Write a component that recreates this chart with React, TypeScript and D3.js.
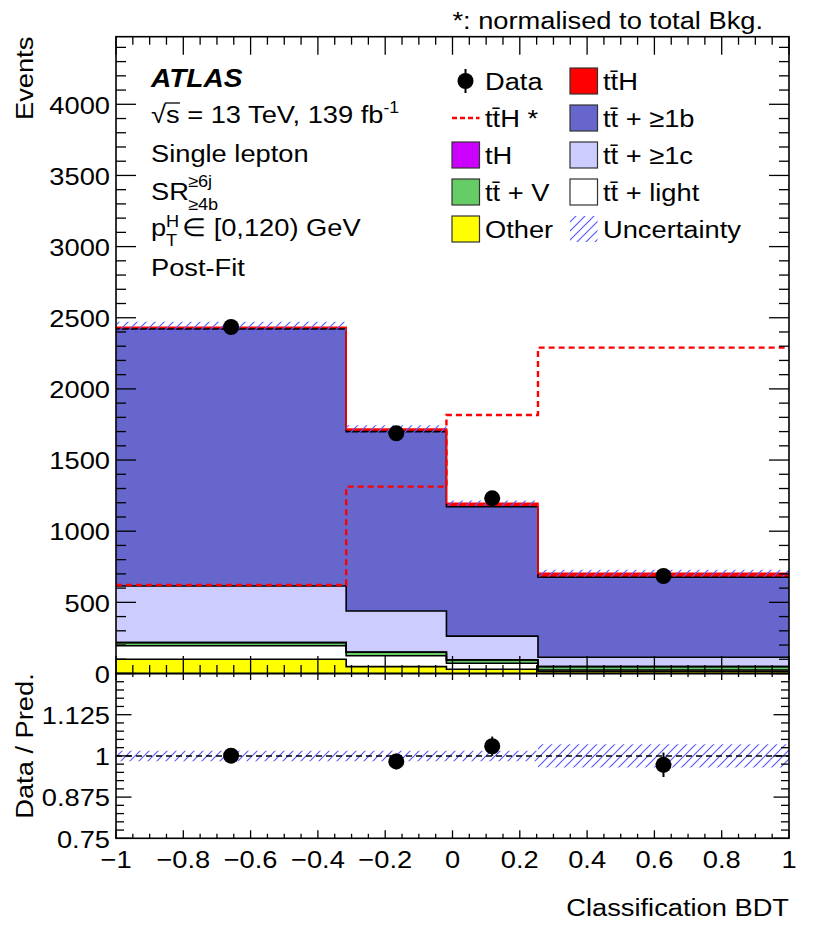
import React from "react";
import * as d3 from "d3";

// ---------- data ----------
const binEdges = [-1, -0.316, -0.018, 0.254, 1];
const other = [100, 48, 30, 15];
const ttLight = [95, 77, 42, 10];
const ttV = [22, 24, 23, 23];
const tH = [1, 1, 1, 1];
const ttC = [397, 289, 167, 65];
const ttB = [1806, 1261, 909, 562];
const ttH = [12, 17, 24, 28];
const ttHstar = [622, 1313, 1817, 2290];
const dataVals = [2435, 1688, 1231, 685];
const relUnc = [0.016, 0.016, 0.016, 0.035];

const yTickLabels = [0, 500, 1000, 1500, 2000, 2500, 3000, 3500, 4000];
const rTickLabels = ["0.75", "0.875", "1", "1.125"];
const xTickLabels = [-1, -0.8, -0.6, -0.4, -0.2, 0, 0.2, 0.4, 0.6, 0.8, 1];

const layers = [
  { key: "other", vals: other, fill: "#ffff00", stroke: "#000", label: "Other" },
  { key: "light", vals: ttLight, fill: "#ffffff", stroke: "#000", label: "tt\u0304 + light" },
  { key: "V", vals: ttV, fill: "#66cc66", stroke: "#000", label: "tt\u0304 + V" },
  { key: "tH", vals: tH, fill: "#cc00ff", stroke: "#000", label: "tH" },
  { key: "c", vals: ttC, fill: "#ccccff", stroke: "#000", label: "tt\u0304 + \u22651c" },
  { key: "b", vals: ttB, fill: "#6666cc", stroke: "#000", label: "tt\u0304 + \u22651b" },
  { key: "ttH", vals: ttH, fill: "#ff0000", stroke: "#ff0000", label: "tt\u0304H" },
];

// ---------- layout ----------
const W = 830, H = 936;
const X0 = 116, X1 = 789;
const YT = 36.7, YB = 673.5, RB = 838.3;
const FS = 24.8, SX = 1.1;
const FONT = "'Liberation Sans', Arial, Helvetica, sans-serif";
const HATCH = "#5a5aff";

const x = d3.scaleLinear().domain([-1, 1]).range([X0, X1]);
const y = d3.scaleLinear().domain([0, 4475]).range([YB, YT]);
const yr = d3.scaleLinear().domain([0.75, 1.25]).range([RB, YB]);

const nb = dataVals.length;
const rows = d3.range(nb).map((i) => {
  const o: any = {};
  layers.forEach((l) => (o[l.key] = l.vals[i]));
  return o;
});
const stacked = d3.stack().keys(layers.map((l) => l.key))(rows);
const totals = d3.range(nb).map((i) => d3.sum(layers, (l) => l.vals[i]));

type P = { e: number; a: number; b: number };
const stepPts = (lo: number[], hi: number[]): P[] => {
  const pts = d3.range(nb).map((i) => ({ e: binEdges[i], a: lo[i], b: hi[i] }));
  pts.push({ e: binEdges[nb], a: lo[nb - 1], b: hi[nb - 1] });
  return pts;
};

const T = ({ x: tx, y: ty, anchor = "start", size = FS, rot = false, weight = "normal", style = "normal", children }: any) => (
  <text
    transform={`translate(${tx},${ty})${rot ? " rotate(-90)" : ""} scale(${SX},1)`}
    textAnchor={anchor}
    fontSize={size}
    fontFamily={FONT}
    fontWeight={weight}
    fontStyle={style}
    fill="#000"
  >
    {children}
  </text>
);

export default function App() {
  const areaGen = (scaleY: any) =>
    d3
      .area<P>()
      .x((d) => x(d.e))
      .y0((d) => scaleY(d.a))
      .y1((d) => scaleY(d.b))
      .curve(d3.curveStepAfter);
  const lineGen = (scaleY: any) =>
    d3
      .line<P>()
      .x((d) => x(d.e))
      .y((d) => scaleY(d.b))
      .curve(d3.curveStepAfter);

  const mainArea = areaGen(y);
  const mainLine = lineGen(y);

  const layerPaths = stacked.map((s, li) => {
    const lo = s.map((d) => d[0]);
    const hi = s.map((d) => d[1]);
    const pts = stepPts(lo, hi);
    return { area: mainArea(pts), line: mainLine(pts), layer: layers[li] };
  });

  const starLine = mainLine(stepPts(ttHstar, ttHstar));
  const uncMain = mainArea(
    stepPts(
      totals.map((t, i) => t * (1 - relUnc[i])),
      totals.map((t, i) => t * (1 + relUnc[i]))
    )
  );
  const uncRatio = areaGen(yr)(
    stepPts(
      relUnc.map((u) => 1 - u),
      relUnc.map((u) => 1 + u)
    )
  );

  const centers = d3.range(nb).map((i) => (binEdges[i] + binEdges[i + 1]) / 2);
  const ratios = dataVals.map((d, i) => d / totals[i]);
  const ratioErr = dataVals.map((d, i) => Math.sqrt(d) / totals[i]);

  // ticks
  const yMinor = d3.range(0, 4476, 100);
  const xMinor = d3.range(0, 41).map((i) => -1 + i * 0.05);
  const rMinor = d3.range(0, 21).map((i) => 0.75 + i * 0.025);
  const isMaj = (v: number, step: number) => Math.abs(v / step - Math.round(v / step)) < 1e-6;

  const tickLines: any[] = [];
  yMinor.forEach((v) => {
    const L = isMaj(v, 500) ? 20 : 10;
    tickLines.push([X0, y(v), X0 + L, y(v)], [X1, y(v), X1 - L, y(v)]);
  });
  xMinor.forEach((v) => {
    const m = isMaj(v + 1, 0.2);
    tickLines.push([x(v), YT, x(v), YT + (m ? 18 : 8)]);
    tickLines.push([x(v), YB, x(v), YB - (m ? 17.5 : 8.5)]);
    tickLines.push([x(v), YB, x(v), YB + (m ? 6.5 : 3.5)]);
    tickLines.push([x(v), RB, x(v), RB - (m ? 8 : 4.5)]);
  });
  rMinor.forEach((v) => {
    const L = isMaj(v - 0.75, 0.125) ? 15.5 : 8;
    tickLines.push([X0, yr(v), X0 + L, yr(v)], [X1, yr(v), X1 - L, yr(v)]);
  });

  const fmtX = (v: number) => (v < 0 ? "\u2212" + String(Math.abs(v)) : String(v));

  const rowY = [81, 118, 155, 192, 229];
  const c1Box = 452, c2Box = 570, boxW = 27.5, boxH = 26;
  const c1Text = 485, c2Text = 603;
  const legBox = (bx: number, cy: number, fill: string) => (
    <rect x={bx} y={cy - boxH / 2} width={boxW} height={boxH} fill={fill} stroke="#333" strokeWidth={1.2} />
  );

  return (
    <svg width={W} height={H} style={{ position: "absolute", left: 0, top: 0, background: "#fff" }}>
      <defs>
        <pattern id="hatch" patternUnits="userSpaceOnUse" width={9} height={9}>
          <path d="M0,9 L9,0 M-2,2 L2,-2 M7,11 L11,7" stroke={HATCH} strokeWidth={1.2} />
        </pattern>
      </defs>
      <rect x={0} y={0} width={W} height={H} fill="#fff" />

      {/* stack fills */}
      {layerPaths.map((p, i) => (
        <path key={"f" + i} d={p.area || ""} fill={p.layer.fill} stroke="none" />
      ))}
      {/* stack outlines */}
      {layerPaths.map((p, i) => (
        <path key={"l" + i} d={p.line || ""} fill="none" stroke={p.layer.stroke} strokeWidth={1.6} />
      ))}

      {/* ttH* dashed */}
      <path d={starLine || ""} fill="none" stroke="#ff0000" strokeWidth={2.4} strokeDasharray="6,4" />

      {/* uncertainty main */}
      <path d={uncMain || ""} fill="url(#hatch)" stroke="none" />

      {/* data main */}
      {centers.map((c, i) => (
        <g key={"d" + i}>
          <line x1={x(c)} x2={x(c)} y1={y(dataVals[i] - Math.sqrt(dataVals[i]))} y2={y(dataVals[i] + Math.sqrt(dataVals[i]))} stroke="#000" strokeWidth={2} />
          <circle cx={x(c)} cy={y(dataVals[i])} r={8} fill="#000" />
        </g>
      ))}

      {/* ratio panel */}
      <path d={uncRatio || ""} fill="url(#hatch)" stroke="none" />
      <line x1={X0} x2={X1} y1={yr(1)} y2={yr(1)} stroke="#000" strokeWidth={1.5} strokeDasharray="6,4" />
      {centers.map((c, i) => (
        <g key={"r" + i}>
          <line x1={x(c)} x2={x(c)} y1={yr(ratios[i] - ratioErr[i])} y2={yr(ratios[i] + ratioErr[i])} stroke="#000" strokeWidth={2} />
          <circle cx={x(c)} cy={yr(ratios[i])} r={8} fill="#000" />
        </g>
      ))}

      {/* ticks */}
      {tickLines.map((t, i) => (
        <line key={"t" + i} x1={t[0]} y1={t[1]} x2={t[2]} y2={t[3]} stroke="#000" strokeWidth={1.3} />
      ))}

      {/* frames */}
      <rect x={X0} y={YT} width={X1 - X0} height={YB - YT} fill="none" stroke="#000" strokeWidth={1.6} />
      <rect x={X0} y={YB} width={X1 - X0} height={RB - YB} fill="none" stroke="#000" strokeWidth={1.6} />

      {/* tick labels */}
      {yTickLabels.map((v) => (
        <T key={"yl" + v} x={110} y={y(v) + 9.3} anchor="end">{String(v)}</T>
      ))}
      {rTickLabels.map((v) => (
        <T key={"rl" + v} x={110} y={yr(+v) + 9.3} anchor="end">{v}</T>
      ))}
      {xTickLabels.map((v) => (
        <T key={"xl" + v} x={x(v)} y={868} anchor="middle">{fmtX(v)}</T>
      ))}

      {/* axis titles */}
      <T x={33} y={YT} anchor="end" rot>Events</T>
      <T x={33} y={746} anchor="middle" rot>Data / Pred.</T>
      <T x={X1} y={916} anchor="end">Classification BDT</T>
      <T x={763} y={29} anchor="end">*: normalised to total Bkg.</T>

      {/* ATLAS labels */}
      <T x={151} y={87} weight="bold" style="italic" size={25.5}>ATLAS</T>
      <T x={151} y={123}>
        {"\u221As = 13 TeV, 139 fb"}
        <tspan fontSize={16} dy={-10}>-1</tspan>
      </T>
      <line x1={165} x2={180} y1={103} y2={103} stroke="#000" strokeWidth={1.3} />
      <T x={151} y={162}>Single lepton</T>
      <T x={151} y={200}>SR</T>
      <T x={188} y={187} size={16.5}>{"\u22656j"}</T>
      <T x={188} y={210} size={16.5}>{"\u22654b"}</T>
      <T x={151} y={236}>p</T>
      <T x={166} y={226.5} size={16.5}>H</T>
      <T x={166} y={246} size={16.5}>T</T>
      <T x={182} y={236}>{"\u2208 [0,120) GeV"}</T>
      <T x={151} y={276}>Post-Fit</T>

      {/* legend col 1 */}
      <line x1={465.5} x2={465.5} y1={rowY[0] - 12} y2={rowY[0] + 12} stroke="#000" strokeWidth={2} />
      <circle cx={465.5} cy={rowY[0]} r={8} fill="#000" />
      <T x={c1Text} y={rowY[0] + 9}>Data</T>
      <line x1={c1Box} x2={c1Box + boxW} y1={rowY[1]} y2={rowY[1]} stroke="#ff0000" strokeWidth={2.4} strokeDasharray="5,3" />
      <T x={c1Text} y={rowY[1] + 9}>{"tt\u0304H *"}</T>
      {legBox(c1Box, rowY[2], layers[3].fill)}
      <T x={c1Text} y={rowY[2] + 9}>{layers[3].label}</T>
      {legBox(c1Box, rowY[3], layers[2].fill)}
      <T x={c1Text} y={rowY[3] + 9}>{layers[2].label}</T>
      {legBox(c1Box, rowY[4], layers[0].fill)}
      <T x={c1Text} y={rowY[4] + 9}>{layers[0].label}</T>

      {/* legend col 2 */}
      {legBox(c2Box, rowY[0], layers[6].fill)}
      <T x={c2Text} y={rowY[0] + 9}>{layers[6].label}</T>
      {legBox(c2Box, rowY[1], layers[5].fill)}
      <T x={c2Text} y={rowY[1] + 9}>{layers[5].label}</T>
      {legBox(c2Box, rowY[2], layers[4].fill)}
      <T x={c2Text} y={rowY[2] + 9}>{layers[4].label}</T>
      {legBox(c2Box, rowY[3], layers[1].fill)}
      <T x={c2Text} y={rowY[3] + 9}>{layers[1].label}</T>
      <rect x={c2Box} y={rowY[4] - boxH / 2} width={boxW} height={boxH} fill="url(#hatch)" stroke="none" />
      <T x={c2Text} y={rowY[4] + 9}>Uncertainty</T>
    </svg>
  );
}
